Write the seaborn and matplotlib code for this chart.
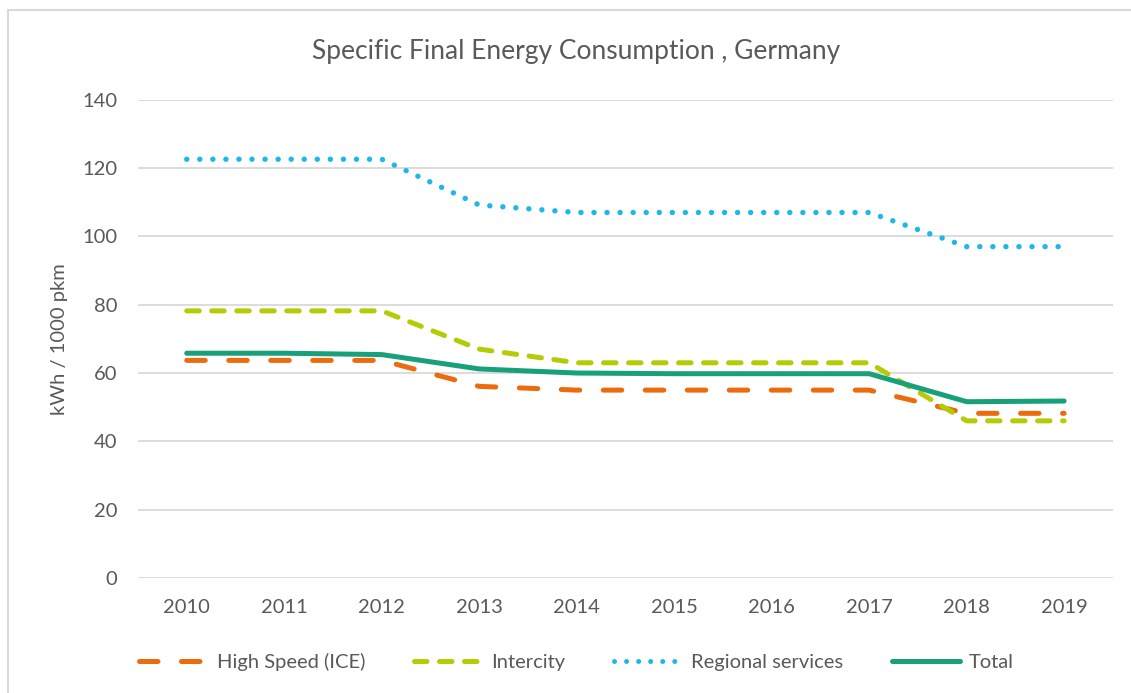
import matplotlib
matplotlib.use("Agg")
import matplotlib.pyplot as plt
import pandas as pd
import seaborn as sns
from matplotlib.patches import Rectangle

years = [2010, 2011, 2012, 2013, 2014, 2015, 2016, 2017, 2018, 2019]
high_speed = [63.7, 63.7, 63.7, 56.1, 55.0, 55.0, 55.0, 55.0, 48.2, 48.2]
intercity = [78.2, 78.2, 78.2, 67.0, 63.0, 63.0, 63.0, 63.0, 46.0, 46.0]
regional = [122.6, 122.6, 122.6, 109.2, 107.0, 107.0, 107.0, 107.0, 97.0, 97.0]
total = [65.8, 65.8, 65.4, 61.2, 60.0, 59.8, 59.8, 59.8, 51.6, 51.8]

series_names = ["High Speed (ICE)", "Intercity", "Regional services", "Total"]
colors = ["#EC6C0D", "#B4CB05", "#1EB8E6", "#17A07A"]
dash_styles = [(3.7, 4.7), (2.5, 2.5), (0.01, 2.4), ""]

df = pd.DataFrame({
    "year": years * 4,
    "value": high_speed + intercity + regional + total,
    "series": [s for s in series_names for _ in years],
})

sns.set_theme(style="white")
plt.rcParams["font.family"] = ["Lato", "DejaVu Sans"]
text_color = "#595959"
font_size = 14.5

fig = plt.figure(figsize=(11.31, 6.93), dpi=100)
ax = fig.add_axes([0.122, 0.166, 0.862, 0.690])

sns.lineplot(
    data=df, x="year", y="value", hue="series", style="series",
    hue_order=series_names, style_order=series_names,
    palette=colors, dashes=dash_styles, linewidth=3.6, ax=ax, legend=False,
)
for line in ax.get_lines():
    line.set_dash_capstyle("round")
    line.set_solid_capstyle("round")
    line.set_solid_joinstyle("round")
ax.get_lines()[2].set_linewidth(3.9)

ax.set_xlim(2009.5, 2019.5)
ax.set_ylim(0, 140)
ax.set_yticks(range(0, 141, 20))
ax.set_xticks(years)
ax.grid(axis="y", color="#D9D9D9", linewidth=1.3)
ax.set_axisbelow(True)
for spine in ax.spines.values():
    spine.set_visible(False)
ax.tick_params(axis="both", length=0, labelsize=font_size, labelcolor=text_color)
ax.tick_params(axis="x", pad=15)
ax.tick_params(axis="y", pad=15)
ax.set_xlabel("")
ax.set_ylabel("kWh / 1000 pkm", fontsize=font_size, color=text_color, labelpad=10)

fig.text(0.509, 0.926, "Specific Final Energy Consumption , Germany",
         ha="center", va="center", fontsize=19, color=text_color)

handles = [
    plt.Line2D([], [], color=c, linewidth=3.6, dashes=d, dash_capstyle="round")
    for c, d in zip(colors[:3], dash_styles[:3])
]
handles.append(plt.Line2D([], [], color=colors[3], linewidth=3.6, solid_capstyle="round"))
fig.legend(handles, series_names, loc="center", bbox_to_anchor=(0.51, 0.045),
           ncol=4, frameon=False, fontsize=font_size, handlelength=3.4,
           handletextpad=0.45, columnspacing=2.4, labelcolor=text_color)

fig.patches.append(Rectangle((8 / 1131, -0.05), 1.1, 1 - 10 / 693 + 0.05,
                             transform=fig.transFigure, fill=False,
                             edgecolor="#D9D9D9", linewidth=1.5))

fig.savefig("out.png", dpi=100)
